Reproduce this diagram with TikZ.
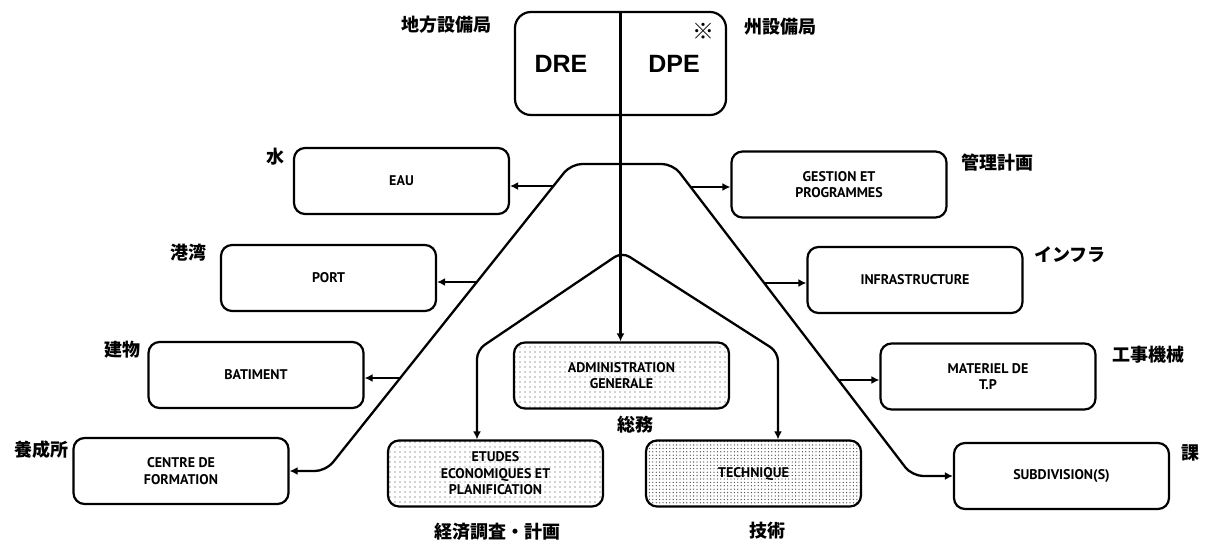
\documentclass[tikz,border=0pt]{standalone}
\usepackage{fontspec}
\setmainfont{PT Sans}
\newfontfamily\jp{Noto Sans CJK JP}
\newfontfamily\hel{Liberation Sans}
\usetikzlibrary{arrows.meta,patterns.meta}
\begin{document}
\begin{tikzpicture}[x=1pt,y=-1pt,
  box/.style={draw, line width=2.2pt, rounded corners=11pt, minimum width=215pt,
    minimum height=66pt, inner sep=2pt, align=center,
    font=\fontsize{14}{16.5}\selectfont\bfseries},
  dots1/.style={pattern={Dots[distance=5pt,radius=0.6pt]}, pattern color=black!75},
  dots2/.style={pattern={Dots[distance=3.4pt,radius=0.65pt]}, pattern color=black!75},
  jlab/.style={font=\jp\bfseries\fontsize{18}{18}\selectfont, inner sep=0pt},
  big/.style={font=\hel\bfseries\fontsize{25}{25}\selectfont, inner sep=0pt},
  conn/.style={line width=2.3pt, rounded corners=11pt},
  tip/.style={-{Latex[length=8pt,width=8pt]}},
  br/.style={line width=1.8pt, -{Latex[length=8pt,width=8pt]}},
]
\useasboundingbox[fill=white] (0,0) rectangle (1205,547);

% top box
\node[box, rounded corners=16pt, minimum width=211pt, minimum height=103pt] (top) at (620.5,63.5) {};
\node[big] (dre) at (561,64) {DRE};
\node[big] (dpe) at (674,64) {DPE};
\node[jlab, font=\jp\bfseries\fontsize{22}{22}\selectfont] (kome) at (703,31) {※};
\node[jlab] (ldre) at (446,25) {地方設備局};
\node[jlab] (ldpe) at (780,27) {州設備局};

% left boxes
\node[box] (eau) at (401.5,181) {EAU};
\node[box] (port) at (328.5,278) {PORT};
\node[box] (bat) at (256,375) {BATIMENT};
\node[box] (centre) at (181,471) {CENTRE DE\\FORMATION};
% right boxes
\node[box] (gest) at (839,184.5) {GESTION ET\\PROGRAMMES};
\node[box] (infra) at (915,280) {INFRASTRUCTURE};
\node[box] (mat) at (988,376.5) {MATERIEL DE\\T.P};
\node[box] (subdiv) at (1061.5,476) {SUBDIVISION(S)};
% central boxes
\node[box, dots1] (admin) at (621.5,375.5) {ADMINISTRATION\\GENERALE};
\node[box, dots1] (etudes) at (495.5,473.5) {ETUDES\\ECONOMIQUES ET\\PLANIFICATION};
\node[box, dots2] (tech) at (753.5,473.5) {TECHNIQUE};

% Japanese labels
\node[jlab] (leau) at (275,157) {水};
\node[jlab] (lport) at (188,253) {港湾};
\node[jlab] (lbat) at (122,350) {建物};
\node[jlab] (lcentre) at (41,450) {養成所};
\node[jlab] (ladmin) at (635,425) {総務};
\node[jlab] (letudes) at (497,532) {経済調査・計画};
\node[jlab] (ltech) at (767,531) {技術};
\node[jlab] (lgest) at (997,163) {管理計画};
\node[jlab] (linfra) at (1070,255) {インフラ};
\node[jlab] (lmat) at (1148,355) {工事機械};
\node[jlab] (lsub) at (1190,453) {課};

% central line
\draw[conn, line width=2.6pt, tip] (top.north) -- (top.north |- admin.north);

% outer trapezoid
\coordinate (tl) at (571,164);
\coordinate (tr) at (673,164);
\coordinate (bl) at (326,471);
\coordinate (brc) at (912,476);
\draw[conn, {Latex[length=8pt,width=8pt]}-{Latex[length=8pt,width=8pt]}]
  (centre.east) -- (bl) -- (tl) -- (tr) -- (brc) -- (subdiv.west);

% branch points
\coordinate (seau) at (553.4,186);
\coordinate (sport) at (476.6,282);
\coordinate (sbat) at (399.8,378);
\coordinate (sgest) at (690.6,187);
\coordinate (sinfra) at (764.2,283);
\coordinate (smat) at (838.5,380);
\draw[br] (seau) -- (seau -| eau.east);
\draw[br] (sport) -- (sport -| port.east);
\draw[br] (sbat) -- (sbat -| bat.east);
\draw[br] (sgest) -- (sgest -| gest.west);
\draw[br] (sinfra) -- (sinfra -| infra.west);
\draw[br] (smat) -- (smat -| mat.west);

% inner triangle
\coordinate (apex) at (622,252);
\coordinate (il) at (477,350);
\coordinate (ir) at (778,352);
\draw[conn, rounded corners=9pt, {Latex[length=8pt,width=8pt]}-{Latex[length=8pt,width=8pt]}]
  (etudes.north -| il) -- (il) -- (apex) -- (ir) -- (tech.north -| ir);
\end{tikzpicture}
\end{document}
